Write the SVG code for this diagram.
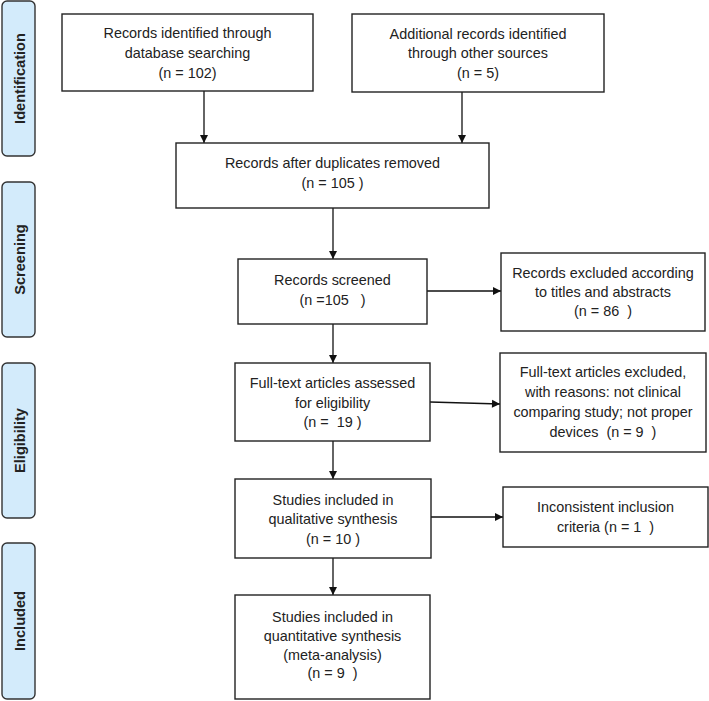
<svg xmlns="http://www.w3.org/2000/svg" width="709" height="701" viewBox="0 0 709 701">
<style>
.box{fill:#fff;stroke:#222;stroke-width:1.4}
.lab{fill:#d3ebfb;stroke:#333;stroke-width:1.4}
.t{font-family:"Liberation Sans",Arial,sans-serif;font-size:14.4px;fill:#222;text-anchor:middle;white-space:pre}
.s{font-family:"Liberation Sans",Arial,sans-serif;font-size:14.6px;font-weight:bold;fill:#222;text-anchor:middle}
.c{stroke:#111;stroke-width:1.3;fill:none;marker-end:url(#ah)}
</style>
<defs>
<marker id="ah" markerWidth="10" markerHeight="10" refX="9" refY="5" orient="auto" markerUnits="userSpaceOnUse">
<path d="M1,1 L9,5 L1,9 Z" fill="#111"/>
</marker>
</defs>
<rect width="709" height="701" fill="#fff"/>
<g id="stage-identification"><rect class="lab" x="2" y="1" width="33" height="155" rx="5"/><text class="s" transform="translate(24.5,78.5) rotate(-90)">Identification</text></g>
<g id="stage-screening"><rect class="lab" x="2" y="182" width="33" height="155" rx="5"/><text class="s" transform="translate(24.5,259.5) rotate(-90)">Screening</text></g>
<g id="stage-eligibility"><rect class="lab" x="2" y="363" width="33" height="155" rx="5"/><text class="s" transform="translate(24.5,440.5) rotate(-90)">Eligibility</text></g>
<g id="stage-included"><rect class="lab" x="2" y="543" width="33" height="156" rx="5"/><text class="s" transform="translate(24.5,621) rotate(-90)">Included</text></g>

<g id="connectors">
<line class="c" x1="204" y1="91" x2="204" y2="143"/>
<line class="c" x1="462" y1="92" x2="462" y2="143"/>
<line class="c" x1="333" y1="208" x2="333" y2="259"/>
<line class="c" x1="427" y1="291" x2="501" y2="291"/>
<line class="c" x1="333" y1="324" x2="333" y2="363"/>
<line class="c" x1="430" y1="402" x2="500" y2="404"/>
<line class="c" x1="333" y1="441" x2="333" y2="479"/>
<line class="c" x1="431" y1="517" x2="503" y2="517"/>
<line class="c" x1="333" y1="558" x2="333" y2="595"/>
</g>

<g id="n1"><rect class="box" x="62" y="14" width="251" height="77"/>
<text class="t" x="187.5" y="38">Records identified through</text>
<text class="t" x="187.5" y="58">database searching</text>
<text class="t" x="187.5" y="78">(n = 102)</text></g>

<g id="n2"><rect class="box" x="352" y="14" width="252" height="78"/>
<text class="t" x="478" y="39">Additional records identified</text>
<text class="t" x="478" y="58">through other sources</text>
<text class="t" x="478" y="78">(n = 5)</text></g>

<g id="n3"><rect class="box" x="176" y="143" width="313" height="65"/>
<text class="t" x="332.5" y="168">Records after duplicates removed</text>
<text class="t" x="332.5" y="188">(n = 105 )</text></g>

<g id="n4"><rect class="box" x="238" y="259" width="189" height="65"/>
<text class="t" x="332.5" y="285">Records screened</text>
<text class="t" x="332.5" y="305">(n =105   )</text></g>

<g id="n5"><rect class="box" x="501" y="253" width="204" height="78"/>
<text class="t" x="603" y="278">Records excluded according</text>
<text class="t" x="603" y="297">to titles and abstracts</text>
<text class="t" x="603" y="316">(n = 86  )</text></g>

<g id="n6"><rect class="box" x="235" y="363" width="195" height="78"/>
<text class="t" x="332.5" y="388">Full-text articles assessed</text>
<text class="t" x="332.5" y="408">for eligibility</text>
<text class="t" x="332.5" y="427">(n =  19 )</text></g>

<g id="n7"><rect class="box" x="500" y="353" width="206" height="99"/>
<text class="t" x="603" y="377">Full-text articles excluded,</text>
<text class="t" x="603" y="397">with reasons: not clinical</text>
<text class="t" x="603" y="417">comparing study; not proper</text>
<text class="t" x="603" y="437">devices  (n = 9  )</text></g>

<g id="n8"><rect class="box" x="235" y="479" width="196" height="79"/>
<text class="t" x="333" y="505">Studies included in</text>
<text class="t" x="333" y="524">qualitative synthesis</text>
<text class="t" x="333" y="544">(n = 10 )</text></g>

<g id="n9"><rect class="box" x="503" y="487" width="205" height="60"/>
<text class="t" x="605.5" y="512">Inconsistent inclusion</text>
<text class="t" x="605.5" y="532">criteria (n = 1  )</text></g>

<g id="n10"><rect class="box" x="235" y="595" width="195" height="104"/>
<text class="t" x="332.5" y="622">Studies included in</text>
<text class="t" x="332.5" y="641">quantitative synthesis</text>
<text class="t" x="332.5" y="660">(meta-analysis)</text>
<text class="t" x="332.5" y="678">(n = 9  )</text></g>
</svg>
